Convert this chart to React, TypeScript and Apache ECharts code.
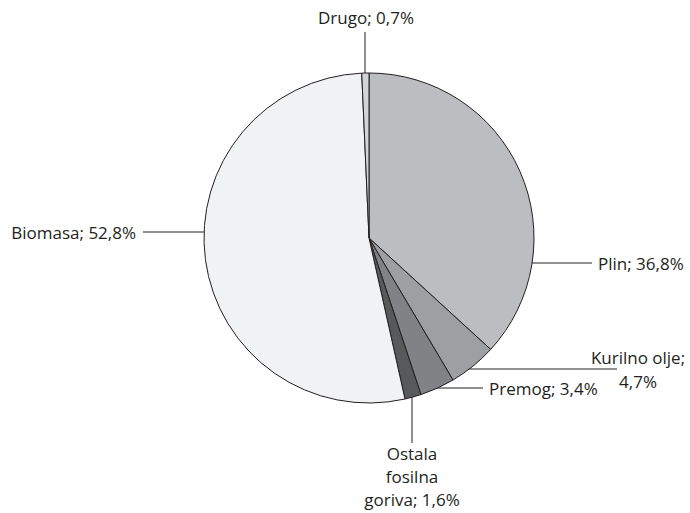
import React, { useEffect, useRef } from "react";
import * as echarts from "echarts";

const categories = ["Plin", "Kurilno olje", "Premog", "Ostala fosilna goriva", "Biomasa", "Drugo"];
const values = [36.8, 4.7, 3.4, 1.6, 52.8, 0.7];
const labelTexts = ["Plin; 36,8%", "Kurilno olje;\n4,7%", "Premog; 3,4%", "Ostala\nfosilna\ngoriva; 1,6%", "Biomasa; 52,8%", "Drugo; 0,7%"];
const colors = ["#bcbdc0", "#9d9fa2", "#808285", "#58595b", "#f1f2f3", "#d1d3d4"];

// label placement (pixels): text anchor, alignment, leader line points
const labelPlacement = [
  { x: 598, y: 263, align: "left", va: "middle", lh: 24, line: [[532, 263], [560, 263], [592, 263]] },
  { x: 638, y: 369, align: "center", va: "middle", lh: 24, line: [[469, 369], [540, 369], [617, 369]] },
  { x: 489, y: 388, align: "left", va: "middle", lh: 24, line: [[437, 388], [460, 388], [483, 388]] },
  { x: 412, y: 442, align: "center", va: "top", lh: 23, line: [[412, 397], [412, 420], [412, 443]] },
  { x: 136, y: 232, align: "right", va: "middle", lh: 24, line: [[204, 232], [170, 232], [143, 232]] },
  { x: 366, y: 17, align: "center", va: "middle", lh: 24, line: [[365, 73], [365, 50], [365, 32]] },
];

export default function App() {
  const ref = useRef<HTMLDivElement>(null);
  useEffect(() => {
    document.body.style.margin = "0";
    const chart = echarts.init(ref.current!, undefined, { renderer: "svg" });
    chart.setOption({
      animation: false,
      backgroundColor: "#ffffff",
      series: [
        {
          type: "pie",
          center: [369, 238],
          radius: 165,
          startAngle: 90,
          clockwise: true,
          avoidLabelOverlap: false,
          data: categories.map((name, i) => ({
            name,
            value: values[i],
            itemStyle: { color: colors[i] },
            label: { formatter: labelTexts[i], lineHeight: labelPlacement[i].lh },
          })),
          itemStyle: { borderColor: "#231f20", borderWidth: 1 },
          label: {
            show: true,
            position: "outside",
            color: "#231f20",
            fontFamily: "Open Sans",
            fontSize: 17,
            lineHeight: 24,
          },
          labelLine: { show: true, lineStyle: { color: "#231f20", width: 1 } },
          labelLayout: (p: any) => {
            const c = labelPlacement[p.dataIndex];
            return {
              x: c.x,
              y: c.y,
              align: c.align,
              verticalAlign: c.va,
              labelLinePoints: c.line,
            };
          },
          emphasis: { disabled: true },
        },
      ],
    });
    return () => chart.dispose();
  }, []);
  return <div ref={ref} style={{ width: 690, height: 513 }} />;
}
